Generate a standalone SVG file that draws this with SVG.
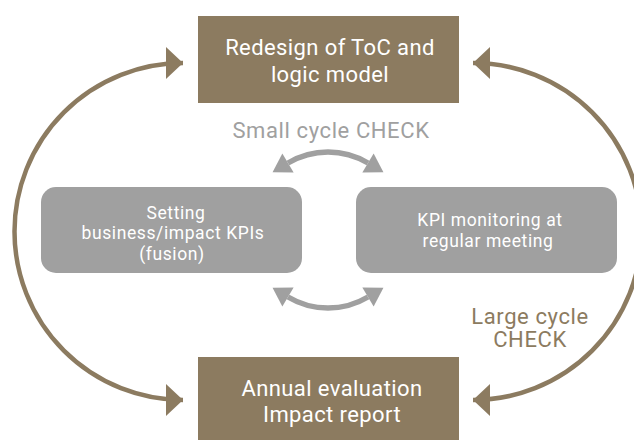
<svg xmlns="http://www.w3.org/2000/svg" width="634" height="440" viewBox="0 0 634 440">
<style>
.bx{fill:#8c7b60}
.gb{fill:#a0a0a0}
.t{font-family:Roboto,"Liberation Sans",sans-serif;text-anchor:middle}
.wt{fill:#ffffff}
.bt{font-size:22px;letter-spacing:0.4px}
.gt{font-size:17.5px;letter-spacing:0.6px}
.lb{font-size:22px;letter-spacing:0.6px}
.big{fill:none;stroke:#8c7b60;stroke-width:4.5}
.sm{fill:none;stroke:#a0a0a0;stroke-width:5.5}
</style>
<defs>
<marker id="ab" markerUnits="userSpaceOnUse" markerWidth="17" markerHeight="32" refX="17" refY="16" orient="auto-start-reverse" overflow="visible">
<path d="M0,0 L17,16 L0,32 z" fill="#8c7b60"/>
</marker>
<marker id="as" markerUnits="userSpaceOnUse" markerWidth="18" markerHeight="22" refX="0" refY="11" orient="auto-start-reverse" overflow="visible">
<path d="M0,0 L18,11 L0,22 z" fill="#a0a0a0"/>
</marker>
</defs>
<g id="connectors">
<path class="big" d="M183 63 A168.5 168.5 0 0 0 183 400" marker-start="url(#ab)" marker-end="url(#ab)"/>
<path class="big" d="M473 63 A168.5 168.5 0 0 1 473 400" marker-start="url(#ab)" marker-end="url(#ab)"/>
<path class="sm" d="M288 163 A78 78 0 0 1 368 163" marker-start="url(#as)" marker-end="url(#as)"/>
<path class="sm" d="M288 297 A78 78 0 0 0 368 297" marker-start="url(#as)" marker-end="url(#as)"/>
</g>
<g id="redesign">
<rect class="bx" x="198" y="16" width="261" height="87"/>
<text class="t wt bt" x="330" y="55">Redesign of ToC and</text>
<text class="t wt bt" x="330" y="82">logic model</text>
</g>
<g id="annual">
<rect class="bx" x="198" y="357" width="261" height="90"/>
<text class="t wt bt" x="332" y="396">Annual evaluation</text>
<text class="t wt bt" x="332" y="422">Impact report</text>
</g>
<g id="setting">
<rect class="gb" x="41" y="187" width="261" height="86" rx="15"/>
<text class="t wt gt" x="176" y="218.5">Setting</text>
<text class="t wt gt" x="173" y="239">business/impact KPIs</text>
<text class="t wt gt" x="172" y="259.5">(fusion)</text>
</g>
<g id="monitoring">
<rect class="gb" x="356" y="187" width="261" height="86" rx="15"/>
<text class="t wt gt" x="490" y="226">KPI monitoring at</text>
<text class="t wt gt" x="488" y="246.5">regular meeting</text>
</g>
<g id="labels">
<text class="t lb" fill="#a0a0a0" x="331" y="138">Small cycle CHECK</text>
<text class="t lb" fill="#8c7b60" x="530" y="324">Large cycle</text>
<text class="t lb" fill="#8c7b60" x="530" y="347">CHECK</text>
</g>
</svg>
